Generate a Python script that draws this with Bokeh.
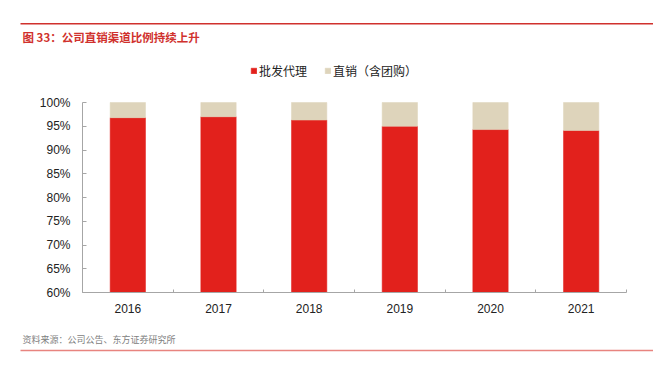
from bokeh.plotting import figure
from bokeh.models import (ColumnDataSource, Range1d, FixedTicker, NumeralTickFormatter,
                          Label, BoxAnnotation)
from bokeh.embed import file_html
from bokeh.resources import INLINE

# ---- data ----
years = ["2016", "2017", "2018", "2019", "2020", "2021"]
wholesale = [0.968, 0.970, 0.963, 0.950, 0.943, 0.941]   # 批发代理
direct = [0.032, 0.030, 0.037, 0.050, 0.057, 0.059]      # 直销（含团购）
series_names = ["批发代理", "直销（含团购）"]
y_ticks = [0.60, 0.65, 0.70, 0.75, 0.80, 0.85, 0.90, 0.95, 1.00]
title_text = "图 33：公司直销渠道比例持续上升"
source_text = "资料来源：公司公告、东方证券研究所"

RED = "#E2211C"
BEIGE = "#DED4BB"
AXIS = "#A6A6A6"
TITLE_RED = "#D0312D"
RULE_PINK = "#E8847F"
CJK = "Noto Sans CJK SC"
LAT = "Liberation Sans"

# ---- canvas geometry (pixels) ----
W, H = 653, 369
AX_LEFT, AX_RIGHT = 82, 626      # x axis extent
AX_BOTTOM, AX_TOP = 292, 102     # y axis extent (60% .. 100%)
y_min, y_max = y_ticks[0], y_ticks[-1]
n = len(years)
px_per_cat = (AX_RIGHT - AX_LEFT) / n
px_per_unit = (AX_BOTTOM - AX_TOP) / (y_max - y_min)

x_range = Range1d(-AX_LEFT / px_per_cat, (W - AX_LEFT) / px_per_cat)
y_range = Range1d(y_min - (H - AX_BOTTOM) / px_per_unit, y_min + AX_BOTTOM / px_per_unit)

p = figure(width=W, height=H, x_range=x_range, y_range=y_range,
           output_backend="svg", toolbar_location=None,
           min_border=0, min_border_left=0, min_border_right=0,
           min_border_top=0, min_border_bottom=0)
p.xgrid.visible = False
p.ygrid.visible = False
p.outline_line_color = None

# ---- bars ----
xs = [i + 0.5 for i in range(n)]
total = [w + d for w, d in zip(wholesale, direct)]
src = ColumnDataSource(dict(x=xs, wholesale=wholesale, direct=direct, total=total))
p.vbar(x="x", bottom=y_min, top="wholesale", width=0.39, source=src,
       fill_color=RED, line_color=RED, line_width=0.5, legend_label=series_names[0])
p.vbar(x="x", bottom="wholesale", top="total", width=0.39, source=src,
       fill_color=BEIGE, line_color=BEIGE, line_width=0.5, legend_label=series_names[1])

# ---- axes ----
xa = p.xaxis[0]
xa.fixed_location = y_min
xa.bounds = (0, n)
xa.ticker = FixedTicker(ticks=xs, minor_ticks=list(range(n + 1)))
xa.major_label_overrides = {x: y for x, y in zip(xs, years)}
xa.major_tick_line_color = None
xa.minor_tick_in = 3
xa.minor_tick_out = 0
xa.minor_tick_line_color = AXIS
xa.axis_line_color = AXIS
xa.major_label_text_font = LAT
xa.major_label_text_font_size = "12px"
xa.major_label_text_color = "#222222"
xa.major_label_standoff = 5

ya = p.yaxis[0]
ya.fixed_location = 0
ya.bounds = (y_min, y_max)
ya.ticker = FixedTicker(ticks=y_ticks)
ya.formatter = NumeralTickFormatter(format="0%")
ya.major_tick_in = 4
ya.major_tick_out = 0
ya.major_tick_line_color = AXIS
ya.minor_tick_line_color = None
ya.axis_line_color = AXIS
ya.major_label_text_font = LAT
ya.major_label_text_font_size = "12px"
ya.major_label_text_color = "#222222"
ya.major_label_standoff = 12

# ---- legend ----
lg = p.legend[0]
lg.orientation = "horizontal"
lg.location = (250, H - 79)
lg.glyph_width = 7
lg.glyph_height = 7
lg.label_height = 12
lg.label_text_font = CJK
lg.label_text_font_size = "12px"
lg.label_text_color = "#222222"
lg.label_standoff = 2
lg.spacing = 17
lg.padding = 0
lg.margin = 0
lg.border_line_color = None
lg.background_fill_alpha = 0

# ---- title, source, rules (screen px: y measured up from the bottom) ----
def box(top_px, bottom_px, color):
    return BoxAnnotation(left=20, right=W, top=H - top_px, bottom=H - bottom_px,
                         left_units="screen", right_units="screen",
                         top_units="screen", bottom_units="screen",
                         fill_color=color, fill_alpha=1, line_color=None)

p.add_layout(box(22.6, 24.0, TITLE_RED))
p.add_layout(Label(x=22, y=H - 36, x_units="screen", y_units="screen", text=title_text,
                   text_font=CJK, text_font_size="11.5px", text_font_style="bold",
                   text_color=TITLE_RED, text_baseline="middle"))
p.add_layout(Label(x=22, y=H - 339, x_units="screen", y_units="screen", text=source_text,
                   text_font=CJK, text_font_size="9px", text_color="#808080",
                   text_baseline="middle"))
p.add_layout(box(349.3, 350.7, RULE_PINK))

open("out.html", "w").write(file_html(p, INLINE))
